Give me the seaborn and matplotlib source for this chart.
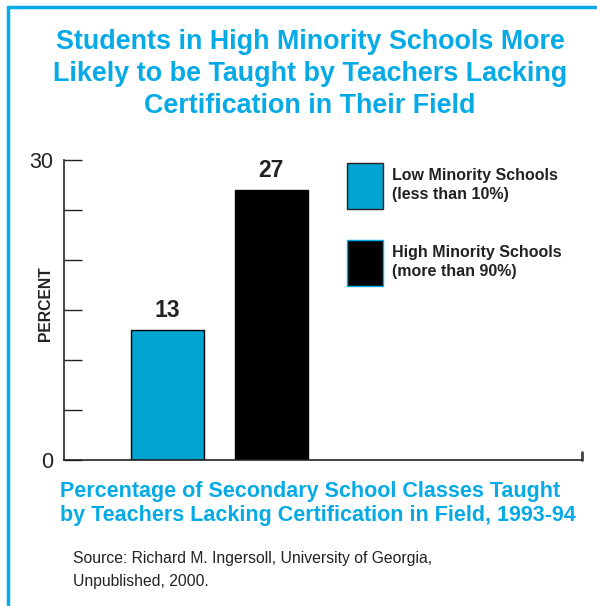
import matplotlib
matplotlib.use("Agg")
import matplotlib.pyplot as plt
from matplotlib.patches import Patch
from matplotlib.lines import Line2D
import seaborn as sns
import pandas as pd

categories = ["Low Minority Schools\n(less than 10%)", "High Minority Schools\n(more than 90%)"]
values = [13, 27]
bar_labels = ["13", "27"]
y_tick_values = [0, 5, 10, 15, 20, 25, 30]
y_tick_labels = ["0", "", "", "", "", "", "30"]

title = "Students in High Minority Schools More\nLikely to be Taught by Teachers Lacking\nCertification in Their Field"
subtitle = "Percentage of Secondary School Classes Taught\nby Teachers Lacking Certification in Field, 1993-94"
source = "Source: Richard M. Ingersoll, University of Georgia,\nUnpublished, 2000."

CYAN = "#06aae6"
BAR_BLUE = "#00a4d0"
BLACK = "#000000"

sns.set_theme(style="white")
plt.rcParams["font.family"] = ["Liberation Sans", "DejaVu Sans"]

df = pd.DataFrame({"group": categories, "pct": values})

fig = plt.figure(figsize=(5.97, 6.06), dpi=100)
ax = fig.add_axes([64 / 597, 1 - 460 / 606, (582 - 64) / 597, 300 / 606])

sns.barplot(data=df, x="group", y="pct", hue="group", palette=[BAR_BLUE, BLACK],
            width=0.705, edgecolor=BLACK, linewidth=1.0, legend=False, ax=ax,
            saturation=1)

ax.set_xlim(-1.0, 4.0)
ax.set_ylim(0, 30)
ax.set_xlabel("")
ax.set_ylabel("PERCENT", fontsize=11.3, fontweight="bold", color="#222222")
ax.yaxis.set_label_coords(-0.0212, 0.522)
ax.set_xticks([])
ax.set_yticks(y_tick_values)
ax.set_yticklabels(y_tick_labels, fontsize=15.5, color="#222222")
ax.tick_params(axis="y", direction="in", length=13, width=1, color="#222222", pad=8, left=True)

for side in ["top", "right"]:
    ax.spines[side].set_visible(False)
for side in ["left", "bottom"]:
    ax.spines[side].set_color("#222222")
    ax.spines[side].set_linewidth(1.2)

# small end tick at the right of the baseline
ax.plot([4.0, 4.0], [0, 0.8], color="#444444", lw=2, clip_on=False)

for i, (v, lab) in enumerate(zip(values, bar_labels)):
    ax.text(i, v + 0.8, lab, ha="center", va="bottom", fontsize=16.5,
            fontweight="bold", color="#222222")

handles = [Patch(facecolor=BAR_BLUE, edgecolor="#222222", linewidth=1.0),
           Patch(facecolor=BLACK, edgecolor=CYAN, linewidth=1.0)]
leg = ax.legend(handles, categories, loc="upper left",
                bbox_to_anchor=((342 - 64) / 518 - 0.012, 1.026),
                frameon=False, fontsize=11.5, handlelength=2.25,
                handleheight=4.05, labelspacing=1.95, handletextpad=0.6,
                borderpad=0.2)
for t in leg.get_texts():
    t.set_fontweight("bold")
    t.set_color("#222222")
    t.set_linespacing(1.35)

fig.text(310 / 597, 1 - 74 / 606, title, ha="center", va="center",
         fontsize=19.4, fontweight="bold", color=CYAN, linespacing=1.28)
fig.text(60 / 597, 1 - 503.5 / 606, subtitle, ha="left", va="center",
         fontsize=15.5, fontweight="bold", color=CYAN, linespacing=1.25)
fig.text(73 / 597, 1 - 570 / 606, source, ha="left", va="center",
         fontsize=11.3, color="#222222", linespacing=1.6)

# frame along top and left edges
fig.add_artist(Line2D([8 / 597, 8 / 597], [0, 1 - 7 / 606], color=CYAN, lw=2.5,
                      transform=fig.transFigure))
fig.add_artist(Line2D([8 / 597, 1], [1 - 7 / 606, 1 - 7 / 606], color=CYAN, lw=2.5,
                      transform=fig.transFigure))

fig.savefig("out.png", dpi=100)
